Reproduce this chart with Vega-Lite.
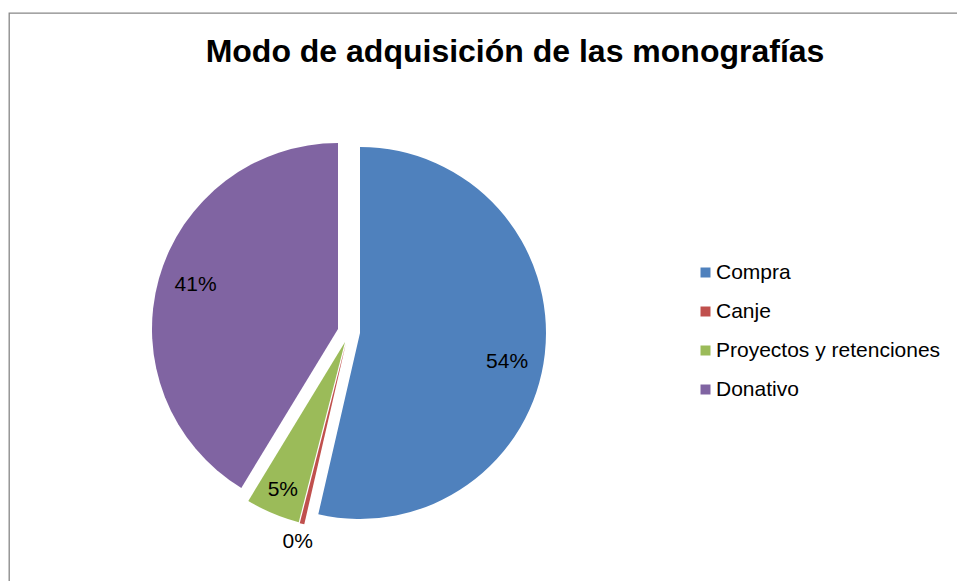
{
  "$schema": "https://vega.github.io/schema/vega-lite/v6.json",
  "width": 948,
  "height": 568,
  "autosize": "none",
  "padding": {"left": 9, "top": 13, "right": 0, "bottom": 0},
  "background": "white",
  "view": {"stroke": "#878787", "strokeWidth": 1.3, "strokeDash": [948, 1516, 568]},
  "config": {
    "font": "Liberation Sans"
  },
  "title": {
    "text": "Modo de adquisición de las monografías",
    "font": "Liberation Sans",
    "fontSize": 32,
    "fontWeight": "bold",
    "color": "#000000",
    "anchor": "middle",
    "frame": "group",
    "baseline": "alphabetic",
    "offset": 0,
    "dy": 81,
    "dx": 32
  },
  "data": {
    "values": [
      {"modo": "Compra", "orden": 1, "pct": 0.536},
      {"modo": "Canje", "orden": 2, "pct": 0.004},
      {"modo": "Proyectos y retenciones", "orden": 3, "pct": 0.047},
      {"modo": "Donativo", "orden": 4, "pct": 0.413}
    ]
  },
  "layer": [
    {
      "mark": {"type": "arc", "x": 351, "y": 320, "outerRadius": 186},
      "encoding": {
        "theta": {"field": "pct", "type": "quantitative", "stack": true},
        "order": {"field": "orden", "type": "quantitative"},
        "color": {"field": "modo", "type": "nominal", "scale": {"domain": ["Compra", "Canje", "Proyectos y retenciones", "Donativo"], "range": ["#4F81BD", "#C0504D", "#9BBB59", "#8064A2"]}, "legend": {"orient": "none", "legendX": 686, "legendY": 249, "title": null, "symbolType": "square", "symbolSize": 100, "symbolOpacity": 1, "symbolStrokeWidth": 0, "labelFontSize": 21, "labelFont": "Liberation Sans", "labelColor": "#000000", "labelLimit": 400, "rowPadding": 17, "labelOffset": 0}},
        "opacity": {"condition": {"test": "datum.modo === 'Compra'", "value": 1}, "value": 0}
      }
    },
    {
      "mark": {"type": "arc", "x": 337, "y": 330, "outerRadius": 186},
      "encoding": {
        "theta": {"field": "pct", "type": "quantitative", "stack": true},
        "order": {"field": "orden", "type": "quantitative"},
        "color": {"field": "modo", "type": "nominal", "scale": {"domain": ["Compra", "Canje", "Proyectos y retenciones", "Donativo"], "range": ["#4F81BD", "#C0504D", "#9BBB59", "#8064A2"]}, "legend": {"orient": "none", "legendX": 686, "legendY": 249, "title": null, "symbolType": "square", "symbolSize": 100, "symbolOpacity": 1, "symbolStrokeWidth": 0, "labelFontSize": 21, "labelFont": "Liberation Sans", "labelColor": "#000000", "labelLimit": 400, "rowPadding": 17, "labelOffset": 0}},
        "opacity": {"condition": {"test": "datum.modo === 'Canje'", "value": 1}, "value": 0}
      }
    },
    {
      "mark": {"type": "arc", "x": 336, "y": 329, "outerRadius": 186},
      "encoding": {
        "theta": {"field": "pct", "type": "quantitative", "stack": true},
        "order": {"field": "orden", "type": "quantitative"},
        "color": {"field": "modo", "type": "nominal", "scale": {"domain": ["Compra", "Canje", "Proyectos y retenciones", "Donativo"], "range": ["#4F81BD", "#C0504D", "#9BBB59", "#8064A2"]}, "legend": {"orient": "none", "legendX": 686, "legendY": 249, "title": null, "symbolType": "square", "symbolSize": 100, "symbolOpacity": 1, "symbolStrokeWidth": 0, "labelFontSize": 21, "labelFont": "Liberation Sans", "labelColor": "#000000", "labelLimit": 400, "rowPadding": 17, "labelOffset": 0}},
        "opacity": {"condition": {"test": "datum.modo === 'Proyectos y retenciones'", "value": 1}, "value": 0}
      }
    },
    {
      "mark": {"type": "arc", "x": 329, "y": 316, "outerRadius": 186},
      "encoding": {
        "theta": {"field": "pct", "type": "quantitative", "stack": true},
        "order": {"field": "orden", "type": "quantitative"},
        "color": {"field": "modo", "type": "nominal", "scale": {"domain": ["Compra", "Canje", "Proyectos y retenciones", "Donativo"], "range": ["#4F81BD", "#C0504D", "#9BBB59", "#8064A2"]}, "legend": {"orient": "none", "legendX": 686, "legendY": 249, "title": null, "symbolType": "square", "symbolSize": 100, "symbolOpacity": 1, "symbolStrokeWidth": 0, "labelFontSize": 21, "labelFont": "Liberation Sans", "labelColor": "#000000", "labelLimit": 400, "rowPadding": 17, "labelOffset": 0}},
        "opacity": {"condition": {"test": "datum.modo === 'Donativo'", "value": 1}, "value": 0}
      }
    },
    {
      "mark": {"type": "text", "x": 351, "y": 320, "radius": 148, "dy": 12, "font": "Liberation Sans", "fontSize": 21, "fill": "#000000", "align": "center", "baseline": "middle"},
      "encoding": {
        "theta": {"field": "pct", "type": "quantitative", "stack": true},
        "order": {"field": "orden", "type": "quantitative"},
        "detail": {"field": "modo", "type": "nominal"},
        "text": {"field": "pct", "type": "quantitative", "format": ".0%"},
        "opacity": {"condition": {"test": "datum.modo === 'Compra'", "value": 1}, "value": 0}
      }
    },
    {
      "mark": {"type": "text", "x": 337, "y": 330, "radius": 204, "dy": 1, "font": "Liberation Sans", "fontSize": 21, "fill": "#000000", "align": "center", "baseline": "middle"},
      "encoding": {
        "theta": {"field": "pct", "type": "quantitative", "stack": true},
        "order": {"field": "orden", "type": "quantitative"},
        "detail": {"field": "modo", "type": "nominal"},
        "text": {"field": "pct", "type": "quantitative", "format": ".0%"},
        "opacity": {"condition": {"test": "datum.modo === 'Canje'", "value": 1}, "value": 0}
      }
    },
    {
      "mark": {"type": "text", "x": 336, "y": 329, "radius": 160, "dy": 1, "font": "Liberation Sans", "fontSize": 21, "fill": "#000000", "align": "center", "baseline": "middle"},
      "encoding": {
        "theta": {"field": "pct", "type": "quantitative", "stack": true},
        "order": {"field": "orden", "type": "quantitative"},
        "detail": {"field": "modo", "type": "nominal"},
        "text": {"field": "pct", "type": "quantitative", "format": ".0%"},
        "opacity": {"condition": {"test": "datum.modo === 'Proyectos y retenciones'", "value": 1}, "value": 0}
      }
    },
    {
      "mark": {"type": "text", "x": 329, "y": 316, "radius": 150, "dx": 2, "dy": -4, "font": "Liberation Sans", "fontSize": 21, "fill": "#000000", "align": "center", "baseline": "middle"},
      "encoding": {
        "theta": {"field": "pct", "type": "quantitative", "stack": true},
        "order": {"field": "orden", "type": "quantitative"},
        "detail": {"field": "modo", "type": "nominal"},
        "text": {"field": "pct", "type": "quantitative", "format": ".0%"},
        "opacity": {"condition": {"test": "datum.modo === 'Donativo'", "value": 1}, "value": 0}
      }
    }
  ]
}
